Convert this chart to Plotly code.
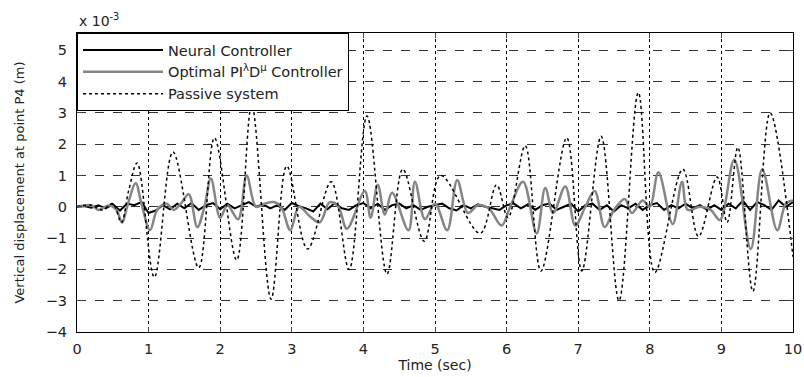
import plotly.graph_objects as go

# ---- data (values in units of 1e-3 m) ----
passive_t = [0.0, 0.2, 0.35, 0.5, 0.62, 0.72, 0.84, 1.08, 1.34, 1.7, 1.92, 2.23, 2.44, 2.71,
             2.93, 3.22, 3.55, 3.8, 4.05, 4.33, 4.55, 4.85, 5.08, 5.63, 5.86, 6.02, 6.26, 6.48,
             6.84, 7.05, 7.32, 7.57, 7.84, 8.07, 8.46, 8.68, 8.94, 9.08, 9.23, 9.44, 9.68, 10.0]
passive_v = [0.0, 0.05, -0.1, 0.1, -0.5, 0.5, 1.4, -2.25, 1.75, -1.95, 2.2, -1.7, 3.25, -2.95,
             1.3, -1.35, 0.8, -2.0, 2.9, -2.15, 1.2, -1.1, 1.0, -0.85, 0.7, -0.35, 1.95, -2.05,
             2.2, -2.05, 2.25, -3.0, 3.65, -2.1, 1.2, -0.95, 0.95, -0.5, 1.9, -2.7, 3.0, -1.6]

pid_t = [0.0, 0.2, 0.3, 0.45, 0.55, 0.63, 0.7, 0.82, 0.9, 1.02, 1.12, 1.25, 1.35, 1.45, 1.56,
         1.68, 1.78, 1.87, 2.0, 2.1, 2.25, 2.37, 2.5, 2.62, 2.75, 2.85, 2.98, 3.1, 3.25, 3.39,
         3.53, 3.65, 3.77, 4.02, 4.1, 4.2, 4.3, 4.4, 4.63, 4.72, 4.86, 5.0, 5.17, 5.31, 5.46,
         5.6, 5.75, 5.93, 6.05, 6.23, 6.42, 6.54, 6.65, 6.82, 6.96, 7.1, 7.23, 7.37, 7.5, 7.65,
         7.75, 7.9, 8.0, 8.12, 8.32, 8.45, 8.53, 8.7, 8.85, 8.98, 9.18, 9.41, 9.57, 9.78, 9.9, 10.0]
pid_v = [0.0, 0.05, -0.1, 0.05, -0.1, -0.5, 0.0, 0.75, 0.1, -0.75, -0.1, 0.1, -0.1, 0.1, 0.4,
         -0.65, 0.0, 0.9, -0.35, 0.05, -0.4, 1.0, 0.0, 0.1, 0.15, 0.0, -0.75, 0.0, -0.3, -0.5,
         0.15, 0.0, -0.7, 0.5, -0.35, 0.7, -0.25, 0.45, -0.75, 0.8, -0.4, 0.1, -0.75, 0.85, -0.2,
         0.05, -0.05, -0.6, 0.0, 0.8, -0.85, 0.6, -0.2, 0.65, -0.6, 0.0, 0.5, -0.65, -0.1, 0.25,
         -0.2, 0.2, 0.0, 1.1, -0.55, 0.8, -0.1, 0.0, -0.1, -0.42, 1.5, -1.35, 1.2, -0.75, 0.1, 0.2]

neural_t = [i / 10 for i in range(101)]
neural_v = [0.0, 0.02, -0.03, 0.05, -0.05, 0.08, -0.12, 0.1, 0.05, 0.15,
            -0.2, -0.12, 0.05, -0.08, 0.1, -0.05, 0.12, -0.1, 0.05, 0.12,
            -0.08, 0.1, -0.05, 0.05, 0.15, 0.0, 0.08, -0.05, 0.05, -0.1,
            0.12, 0.02, -0.05, -0.15, 0.1, -0.08, 0.12, -0.05, -0.1, 0.05,
            0.12, -0.05, 0.1, -0.1, 0.05, 0.1, -0.05, 0.05, -0.1, 0.0,
            0.05, 0.1, -0.05, -0.12, 0.05, -0.05, 0.08, 0.0, -0.05, -0.1,
            0.05, 0.1, -0.05, 0.08, -0.1, 0.05, 0.1, -0.1, 0.0, 0.1,
            -0.15, 0.05, 0.1, -0.1, 0.05, -0.15, 0.05, -0.05, 0.1, -0.1,
            0.05, 0.12, -0.1, 0.05, -0.05, 0.1, -0.05, 0.05, -0.1, 0.05,
            -0.1, 0.1, -0.05, 0.2, -0.1, 0.15, 0.05, -0.1, 0.2, 0.0, 0.15]

x_ticks = list(range(0, 11))
y_ticks = list(range(-4, 6))

FONT = "DejaVu Sans, Liberation Sans, Arial, sans-serif"

fig = go.Figure()
fig.add_trace(go.Scatter(x=neural_t, y=neural_v, mode="lines", name="Neural Controller",
                         line=dict(color="black", width=2)))
fig.add_trace(go.Scatter(x=pid_t, y=pid_v, mode="lines",
                         name="Optimal PI<sup>λ</sup>D<sup>μ</sup> Controller",
                         line=dict(color="#858585", width=2.5, shape="spline", smoothing=1.0)))
fig.add_trace(go.Scatter(x=passive_t, y=passive_v, mode="lines", name="Passive system",
                         line=dict(color="black", width=1.5, dash="dot", shape="spline", smoothing=1.0)))

fig.update_layout(
    width=804, height=377,
    margin=dict(l=77, r=11, t=33, b=45),
    paper_bgcolor="white", plot_bgcolor="white",
    font=dict(family=FONT, size=14.5, color="#222222"),
    showlegend=True,
    legend=dict(x=0, y=1, xanchor="left", yanchor="top", bgcolor="white",
                bordercolor="black", borderwidth=1, font=dict(size=14.5),
                itemwidth=80, tracegroupgap=0),
    xaxis=dict(range=[0, 10], tickvals=x_ticks, ticks="inside", ticklen=5,
               showline=True, linecolor="black", linewidth=1, mirror="ticks",
               showgrid=True, gridcolor="black", griddash="dot", gridwidth=1,
               zeroline=False, ticklabelstandoff=4, automargin=False,
               title=dict(text="Time (sec)", font=dict(size=14), standoff=2)),
    yaxis=dict(range=[-4, 5.55], tickvals=y_ticks, ticks="inside", ticklen=5,
               showline=True, linecolor="black", linewidth=1, mirror="ticks",
               showgrid=True, gridcolor="#333333", griddash="dash", gridwidth=1,
               zeroline=False, ticklabelstandoff=6, automargin=False,
               title=dict(text="Vertical displacement at point P4 (m)", font=dict(size=13), standoff=18)),
    annotations=[dict(text="x 10<sup>-3</sup>", x=0, y=1, xref="paper", yref="paper",
                      xanchor="left", yanchor="bottom", yshift=2, showarrow=False,
                      font=dict(size=14))],
)

fig.write_html("out.html")
